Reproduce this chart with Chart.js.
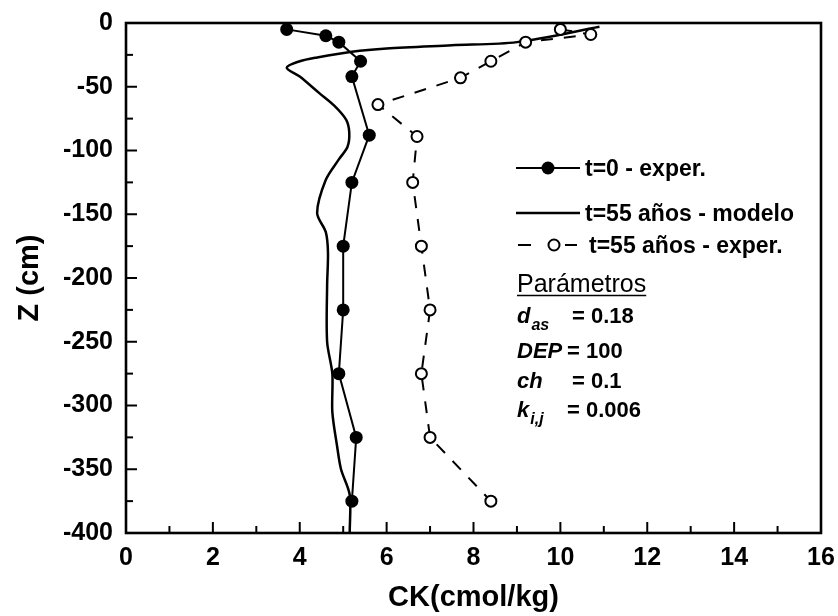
<!DOCTYPE html>
<html><head><meta charset="utf-8">
<script src="https://cdn.jsdelivr.net/npm/chart.js@4/dist/chart.umd.min.js"></script>
<style>html,body{margin:0;padding:0;background:#fff;}#wrap{width:838px;height:616px;}</style>
</head><body><div id="wrap"><canvas id="c" width="838" height="616"></canvas></div>
<script>
// ---- data ----
const t0ExperCK = [3.7, 4.6, 4.9, 5.4, 5.2, 5.6, 5.2, 5.0, 5.0, 4.9, 5.3, 5.2];
const t0ExperZ  = [-5, -10, -15, -30, -42, -88, -125, -175, -225, -275, -325, -375];
const t55ExperCK = [10.0, 10.7, 9.2, 8.4, 7.7, 5.8, 6.7, 6.6, 6.8, 7.0, 6.8, 7.0, 8.4];
const t55ExperZ  = [-5, -9, -15, -30, -43, -64, -89, -125, -175, -225, -275, -325, -375];
const t55ModelCK = [10.9, 9.0, 7.5, 6.0, 5.2, 4.4, 4.0, 3.7, 4.0, 4.45, 4.8, 5.07, 5.14, 5.1, 4.9, 4.6, 4.4, 4.6, 4.65, 4.63, 4.63, 4.75, 4.75, 4.86, 4.95, 5.15, 5.15];
const t55ModelZ  = [-3, -15, -17.5, -20, -22.5, -27, -30, -35, -42, -55, -65, -76, -86, -97, -107, -123, -149, -164, -180, -206, -250, -275, -305, -332, -350, -370, -400];
const xTicks = [0, 2, 4, 6, 8, 10, 12, 14, 16];
const yTicks = [0, -50, -100, -150, -200, -250, -300, -350, -400];
const legendLabels = ["t=0 - exper.", "t=55 años - modelo", "t=55 años - exper."];
const paramTitle = "Parámetros";
const params = [["d","as","= 0.18"],["DEP","","= 100"],["ch","","= 0.1"],["k","i,j","= 0.006"]];

const pts = (xs, ys) => xs.map((v, i) => ({x: v, y: ys[i]}));
const FONT = '"Liberation Sans", Arial, sans-serif';

const decor = {
  id: 'decor',
  afterDraw(chart) {
    const {ctx, chartArea: {left, right, top, bottom}, scales: {x, y}} = chart;
    ctx.save();
    ctx.strokeStyle = '#000'; ctx.fillStyle = '#000';
    ctx.lineWidth = 2;
    const line = (a, b, c, d) => { ctx.beginPath(); ctx.moveTo(a, b); ctx.lineTo(c, d); ctx.stroke(); };
    for (let v = 0; v <= 16; v += 1) {
      const px = x.getPixelForValue(v);
      line(px, bottom, px, bottom - (v % 2 === 0 ? 11 : 7));
    }
    for (let v = 0; v >= -400; v -= 25) {
      const py = y.getPixelForValue(v);
      line(left, py, left + (v % 50 === 0 ? 11 : 7), py);
    }
    ctx.lineWidth = 2.6;
    ctx.strokeRect(left, top, right - left, bottom - top);

    // legend
    const rows = [168, 213, 245];
    ctx.font = 'bold 23px ' + FONT;
    ctx.textBaseline = 'middle';
    ctx.lineWidth = 2;
    // row 1
    line(516, rows[0], 580, rows[0]);
    ctx.beginPath(); ctx.arc(548, rows[0], 6.5, 0, Math.PI * 2); ctx.fill();
    ctx.fillText(legendLabels[0], 585, rows[0] + 2);
    // row 2
    ctx.lineWidth = 2.5;
    line(516, rows[1], 580, rows[1]);
    ctx.fillText(legendLabels[1], 585, rows[1] + 2);
    // row 3
    ctx.lineWidth = 2;
    line(518, rows[2], 531, rows[2]);
    line(565, rows[2], 577, rows[2]);
    ctx.beginPath(); ctx.arc(554, rows[2], 5.5, 0, Math.PI * 2);
    ctx.fillStyle = '#fff'; ctx.fill(); ctx.fillStyle = '#000'; ctx.stroke();
    ctx.fillText(legendLabels[2], 589, rows[2] + 2);

    // parameters
    ctx.textBaseline = 'alphabetic';
    ctx.font = '25px ' + FONT;
    ctx.fillText(paramTitle, 517, 292);
    const w = ctx.measureText(paramTitle).width;
    ctx.lineWidth = 1.6;
    line(517, 295.5, 517 + w, 295.5);
    const pys = [323, 358, 388, 417];
    const eqx = [572, 567, 572, 567];
    params.forEach((p, i) => {
      ctx.font = 'italic bold 22px ' + FONT;
      ctx.fillText(p[0], 517, pys[i]);
      const mw = ctx.measureText(p[0]).width;
      if (p[1]) {
        ctx.font = 'italic bold 16px ' + FONT;
        ctx.fillText(p[1], 518 + mw, pys[i] + 7);
      }
      ctx.font = 'bold 22px ' + FONT;
      ctx.fillText(p[2], eqx[i], pys[i]);
    });
    ctx.restore();
  }
};

new Chart(document.getElementById('c'), {
  type: 'scatter',
  data: {
    datasets: [
      { label: legendLabels[1], data: pts(t55ModelCK, t55ModelZ), showLine: true, borderColor: '#000', borderWidth: 2.5, pointRadius: 0, tension: 0.3, order: 3 },
      { label: legendLabels[0], data: pts(t0ExperCK, t0ExperZ), showLine: true, borderColor: '#000', backgroundColor: '#000', borderWidth: 2, pointRadius: 6.5, pointBorderWidth: 0, order: 2 },
      { label: legendLabels[2], data: pts(t55ExperCK, t55ExperZ), showLine: true, borderColor: '#000', backgroundColor: '#fff', borderWidth: 2, borderDash: [12, 11], pointRadius: 5.5, pointBorderWidth: 2, pointBorderColor: '#000', pointBackgroundColor: '#fff', order: 1 }
    ]
  },
  options: {
    responsive: false, animation: false, maintainAspectRatio: false,
    layout: { padding: { top: 23, right: 17, left: 0, bottom: 0 } },
    plugins: { legend: { display: false }, tooltip: { enabled: false } },
    scales: {
      x: {
        type: 'linear', min: 0, max: 16,
        afterBuildTicks(s) { s.ticks = xTicks.map(v => ({value: v})); },
        afterFit(s) { s.height = 83; s.paddingLeft = 0; s.paddingRight = 0; },
        grid: { display: false, drawTicks: false },
        border: { display: false },
        ticks: { color: '#000', font: { family: FONT, size: 25, weight: 'bold' }, padding: 10, maxRotation: 0 },
        title: { display: true, text: 'CK(cmol/kg)', color: '#000', font: { family: FONT, size: 29, weight: 'bold' }, padding: { top: 0, bottom: 1 } }
      },
      y: {
        type: 'linear', min: -400, max: 0,
        afterBuildTicks(s) { s.ticks = yTicks.map(v => ({value: v})); },
        afterFit(s) { s.width = 126; s.paddingTop = 0; s.paddingBottom = 0; },
        grid: { display: false, drawTicks: false },
        border: { display: false },
        ticks: { color: '#000', font: { family: FONT, size: 25, weight: 'bold' }, padding: 13 },
        title: { display: true, text: 'Z (cm)', color: '#000', font: { family: FONT, size: 29, weight: 'bold' }, padding: { top: 13, bottom: 0 } }
      }
    }
  },
  plugins: [decor]
});
</script></body></html>
